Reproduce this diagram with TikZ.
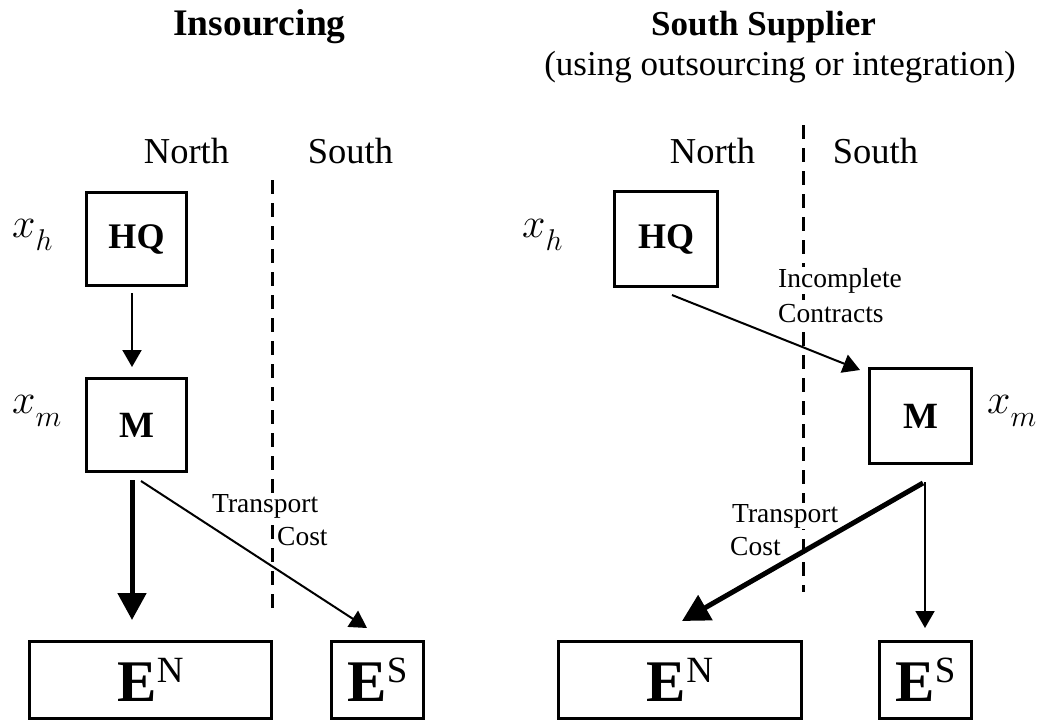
\RequirePackage{fix-cm}
\documentclass[tikz,border=0pt]{standalone}
\usepackage{fontspec}
\setmainfont{Liberation Serif}
\usetikzlibrary{arrows.meta}
\newcommand{\xlab}[2]{\(x\)\raisebox{-13pt}{\fontsize{30}{30}\selectfont\(#2\)}}
\newcommand{\Elab}[1]{\fontsize{59}{60}\selectfont\bfseries E\raisebox{19pt}{\fontsize{37}{37}\selectfont\mdseries #1}}
\begin{document}
\begin{tikzpicture}[x=1pt,y=-1pt,
  box/.style={draw, line width=3pt, inner sep=0pt},
  smallbox/.style={box, minimum width=100pt, minimum height=93pt},
  ebox/.style={box, minimum height=77pt},
  thinarrow/.style={line width=2pt, -{Triangle[width=19pt,length=17pt]}},
  thickarrow/.style={line width=5pt, -{Triangle[width=28pt,length=27pt]}},
  divider/.style={line width=3pt, dash pattern=on 14pt off 9pt},
  lbl/.style={font=\fontsize{27.5}{30}\selectfont, fill=white, inner sep=1pt, anchor=base west},
  side/.style={font=\fontsize{36.5}{40}\selectfont, anchor=base, inner sep=0pt},
  mathlab/.style={font=\fontsize{42}{44}\selectfont, anchor=base west, inner sep=0pt},
  boxtext/.style={font=\fontsize{36}{40}\selectfont\bfseries}
]
\useasboundingbox (0,0) rectangle (1062,723);

% titles
\node[anchor=base, inner sep=0pt, font=\fontsize{37.5}{40}\selectfont\bfseries] (t1) at (259.5,35) {Insourcing};
\node[anchor=base, inner sep=0pt, font=\fontsize{35}{40}\selectfont\bfseries] (t2) at (763.5,35) {South Supplier};
\node[anchor=base, inner sep=0pt, font=\fontsize{35}{40}\selectfont] (t3) at (780,75) {(using outsourcing or integration)};

% North / South
\node[side] (nL) at (186.5,163) {North};
\node[side] (sL) at (350.5,163) {South};
\node[side] (nR) at (712.5,163) {North};
\node[side] (sR) at (875.5,163) {South};

% dividers
\draw[divider] (272,180) -- (272,610);
\draw[divider] (803,125) -- (803,592);

% labels with white background
\node[lbl] (trL) at (211,512) {Transport};
\node[lbl] (coL) at (276,545) {Cost};
\node[lbl] (inc) at (777,287) {Incomplete};
\node[lbl] (con) at (777,322) {Contracts};
\node[lbl] (trR) at (731,522) {Transport};
\node[lbl] (coR) at (729,555) {Cost};

% x labels
\node[mathlab] (xhL) at (12,237) {\xlab{x}{h}};
\node[mathlab] (xmL) at (12,413) {\xlab{x}{m}};
\node[mathlab] (xhR) at (522,237) {\xlab{x}{h}};
\node[mathlab] (xmR) at (987,413) {\xlab{x}{m}};

% boxes left
\node[smallbox, boxtext] (hqL) at (136.5,239) {HQ};
\node[smallbox, boxtext, font=\fontsize{37}{40}\selectfont\bfseries] (mL) at (136.5,425) {M};
\node[ebox, minimum width=242pt] (eNL) at (150.5,680) {\Elab{N}};
\node[ebox, minimum width=92pt] (eSL) at (377.5,680) {\Elab{S}};

% boxes right
\node[smallbox, boxtext, minimum width=103pt, minimum height=95pt] (hqR) at (666,239) {HQ};
\node[smallbox, boxtext, font=\fontsize{37}{40}\selectfont\bfseries, minimum width=102pt, minimum height=95pt] (mR) at (920.5,416) {M};
\node[ebox, minimum width=243pt] (eNR) at (680,680) {\Elab{N}};
\node[ebox, minimum width=92pt] (eSR) at (925.5,680) {\Elab{S}};

% arrows left
\draw[thinarrow] ([xshift=-4.5pt,yshift=-6pt]hqL.south) -- ([xshift=-4.5pt,yshift=10pt]mL.north);
\draw[thickarrow] ([xshift=-4.5pt,yshift=-7pt]mL.south) -- ([xshift=-18.5pt,yshift=20pt]eNL.north);
\draw[thinarrow] ([xshift=4.5pt,yshift=-8pt]mL.south) -- ([xshift=-10.5pt,yshift=12pt]eSL.north);

% arrows right
\draw[thinarrow] ([xshift=6pt,yshift=-7pt]hqR.south) -- ([xshift=-8pt,yshift=-3pt]mR.north west);
\draw[thickarrow] ([xshift=2.5pt,yshift=-18pt]mR.south) -- ([xshift=2pt,yshift=19pt]eNR.north);
\draw[thinarrow] ([xshift=4.5pt,yshift=-17pt]mR.south) -- ([xshift=-0.5pt,yshift=12pt]eSR.north);
\end{tikzpicture}
\end{document}
